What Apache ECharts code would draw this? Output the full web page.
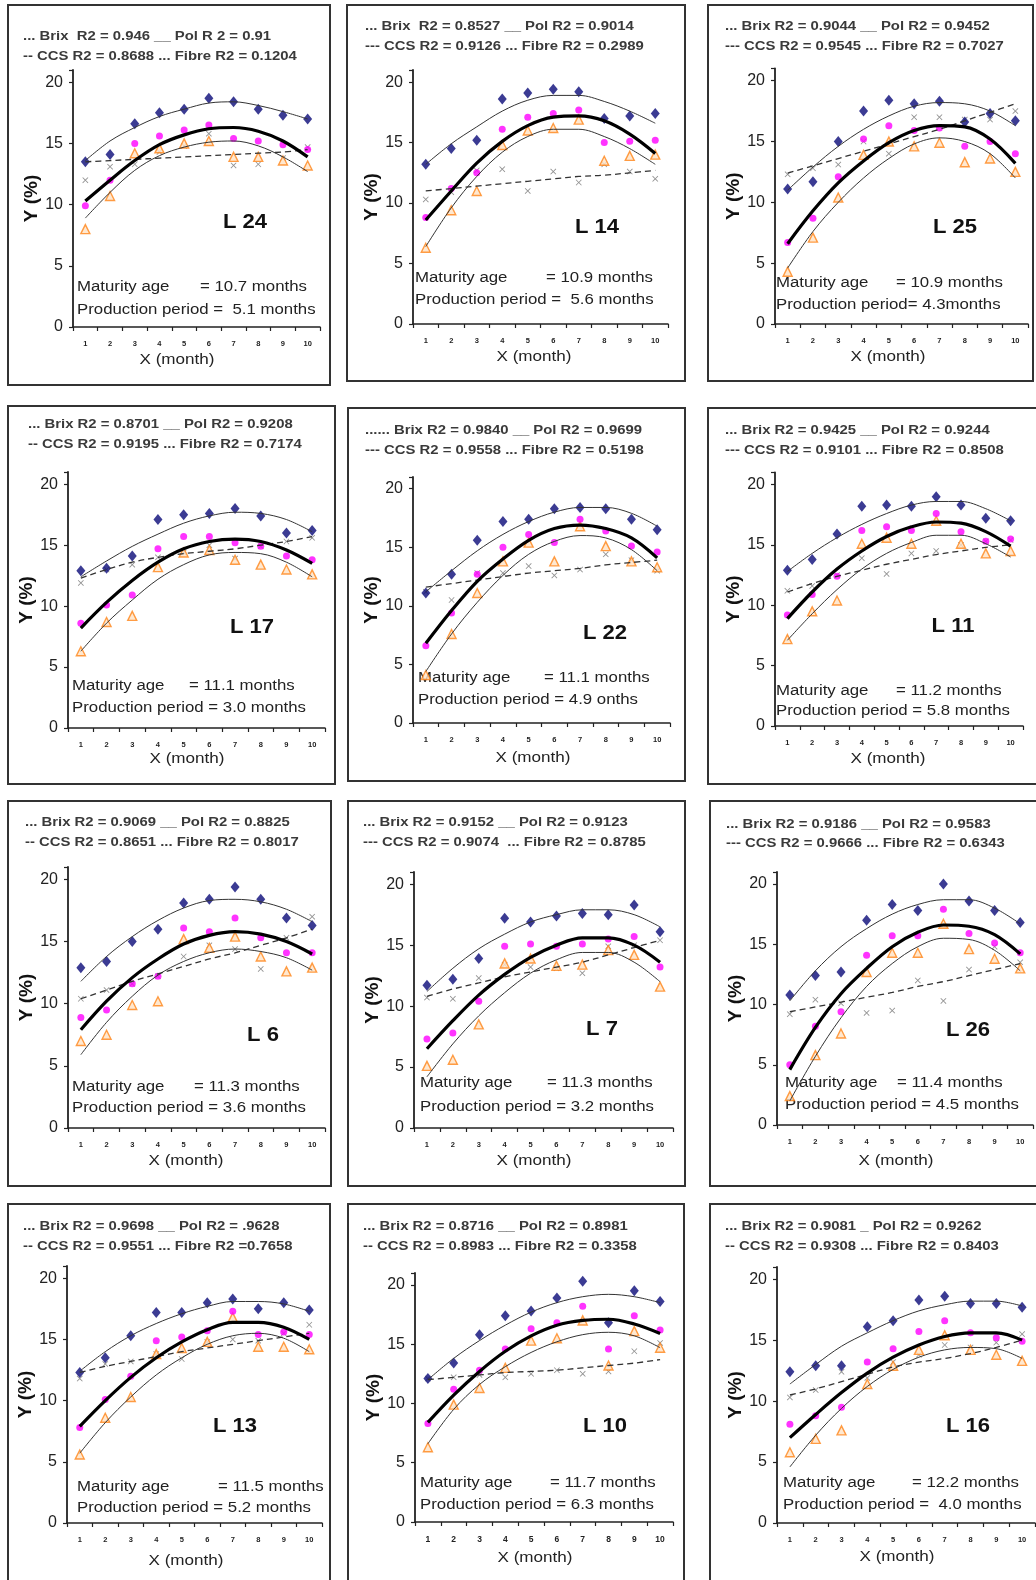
<!DOCTYPE html>
<html><head><meta charset="utf-8">
<script src="https://cdn.jsdelivr.net/npm/echarts@6/dist/echarts.min.js"></script>
<style>html,body{margin:0;padding:0;background:#fff}#c{width:1036px;height:1580px}</style>
</head><body><div id="c"></div>
<script>
const months = ['1','2','3','4','5','6','7','8','9','10'];
const yTicks = [0,5,10,15,20];
const panelNames = ['L 24','L 14','L 25','L 17','L 22','L 11','L 6','L 7','L 26','L 13','L 10','L 16'];
const r2Top = [
 '... Brix  R2 = 0.946 __ Pol R 2 = 0.91',
 '... Brix  R2 = 0.8527 __ Pol R2 = 0.9014',
 '... Brix R2 = 0.9044 __ Pol R2 = 0.9452',
 '... Brix R2 = 0.8701 __ Pol R2 = 0.9208',
 '...... Brix R2 = 0.9840 __ Pol R2 = 0.9699',
 '... Brix R2 = 0.9425 __ Pol R2 = 0.9244',
 '... Brix R2 = 0.9069 __ Pol R2 = 0.8825',
 '... Brix R2 = 0.9152 __ Pol R2 = 0.9123',
 '... Brix R2 = 0.9186 __ Pol R2 = 0.9583',
 '... Brix R2 = 0.9698 __ Pol R2 = .9628',
 '... Brix R2 = 0.8716 __ Pol R2 = 0.8981',
 '... Brix R2 = 0.9081 _ Pol R2 = 0.9262'
];
const r2Bottom = [
 '-- CCS R2 = 0.8688 ... Fibre R2 = 0.1204',
 '--- CCS R2 = 0.9126 ... Fibre R2 = 0.2989',
 '--- CCS R2 = 0.9545 ... Fibre R2 = 0.7027',
 '-- CCS R2 = 0.9195 ... Fibre R2 = 0.7174',
 '--- CCS R2 = 0.9558 ... Fibre R2 = 0.5198',
 '--- CCS R2 = 0.9101 ... Fibre R2 = 0.8508',
 '-- CCS R2 = 0.8651 ... Fibre R2 = 0.8017',
 '--- CCS R2 = 0.9074  ... Fibre R2 = 0.8785',
 '--- CCS R2 = 0.9666 ... Fibre R2 = 0.6343',
 '-- CCS R2 = 0.9551 ... Fibre R2 =0.7658',
 '-- CCS R2 = 0.8983 ... Fibre R2 = 0.3358',
 '-- CCS R2 = 0.9308 ... Fibre R2 = 0.8403'
];
const maturityText = ['= 10.7 months','= 10.9 months','= 10.9 months','= 11.1 months','= 11.1 months','= 11.2 months',
 '= 11.3 months','= 11.3 months','= 11.4 months','= 11.5 months','= 11.7 months','= 12.2 months'];
const productionText = ['Production period =  5.1 months','Production period =  5.6 months','Production period= 4.3months',
 'Production period = 3.0 months','Production period = 4.9 onths','Production period = 5.8 months',
 'Production period = 3.6 months','Production period = 3.2 months','Production period = 4.5 months',
 'Production period = 5.2 months','Production period = 6.3 months','Production period =  4.0 months'];

const brixObs = [
 [13.5,14.1,16.6,17.5,17.8,18.7,18.4,17.8,17.3,17.0],
 [13.2,14.5,15.2,18.6,19.1,19.4,19.2,17.0,17.2,17.4],
 [11.1,11.7,15.0,17.5,18.4,18.1,18.3,16.6,17.3,16.7],
 [12.9,13.1,14.1,17.1,17.5,17.6,18.0,17.4,16.0,16.2],
 [11.1,12.7,15.6,17.2,17.4,18.3,18.4,18.3,17.4,16.5],
 [12.9,13.8,15.9,18.2,18.3,18.2,19.0,18.3,17.2,17.0],
 [12.9,13.4,15.0,16.0,18.1,18.4,19.4,18.4,16.9,16.3],
 [11.7,12.2,13.9,17.2,16.9,17.4,17.6,17.5,18.3,16.1],
 [10.8,12.4,12.7,17.0,18.3,17.8,20.0,18.6,17.8,16.8],
 [12.3,13.5,15.3,17.2,17.2,18.0,18.3,17.5,18.0,17.4],
 [12.1,13.4,15.8,17.4,17.8,18.9,20.3,16.8,19.5,18.6],
 [12.4,12.9,12.9,16.1,16.6,18.3,18.6,18.0,18.0,17.7]
];
const polObs = [
 [9.9,12.0,15.0,15.6,16.1,16.5,15.4,15.2,14.9,14.5],
 [8.8,11.2,12.5,16.1,17.1,17.4,17.7,15.0,15.1,15.2],
 [6.7,8.7,12.1,15.2,16.3,15.9,16.1,14.6,15.0,14.0],
 [8.6,10.1,10.9,14.7,15.7,15.7,15.2,14.9,14.1,13.8],
 [6.6,9.4,12.7,15.0,16.1,15.4,17.4,16.4,15.1,14.6],
 [9.2,10.9,12.4,16.2,16.5,16.2,17.6,16.1,15.3,15.5],
 [8.9,9.5,11.6,12.2,16.1,15.8,16.9,15.3,14.1,14.1],
 [7.3,7.8,10.4,14.9,15.1,14.9,15.1,15.5,15.7,13.2],
 [5.0,8.2,9.4,14.1,15.7,15.7,17.9,15.9,15.1,14.3],
 [7.8,10.1,12.0,14.9,15.2,15.7,17.3,15.4,15.6,15.4],
 [8.3,11.2,12.8,14.6,16.3,16.8,18.2,14.6,17.4,16.2],
 [8.1,8.8,9.5,13.2,14.3,15.7,16.6,15.6,15.2,14.9]
];
const ccsObs = [
 [8.0,10.7,14.2,14.6,15.0,15.2,13.9,13.9,13.6,13.2],
 [6.3,9.4,11.0,14.8,16.0,16.2,16.9,13.5,13.9,14.0],
 [4.3,7.1,10.4,13.9,15.0,14.6,14.9,13.3,13.6,12.5],
 [6.3,8.7,9.2,13.2,14.4,14.6,13.8,13.4,13.0,12.6],
 [4.1,7.6,11.1,13.8,15.4,13.8,16.8,15.1,13.8,13.3],
 [7.2,9.5,10.4,15.1,15.6,15.1,17.0,15.1,14.3,14.5],
 [7.0,7.5,9.9,10.2,15.2,14.5,15.4,13.8,12.6,12.9],
 [5.1,5.6,8.5,13.5,13.9,13.3,13.4,14.6,14.2,11.6],
 [2.4,5.8,7.6,12.7,14.3,14.3,16.7,14.6,13.8,13.0],
 [5.6,8.6,10.3,13.8,14.3,14.8,16.8,14.4,14.4,14.2],
 [6.3,9.9,11.3,13.0,15.3,15.5,17.0,13.2,16.1,14.7],
 [5.8,6.9,7.6,11.4,12.9,14.2,15.4,14.2,13.8,13.3]
];
const fibreObs = [
 [12.0,13.1,13.3,14.3,14.8,15.8,13.2,13.3,13.8,14.7],
 [10.3,10.9,12.7,12.8,11.0,12.6,11.7,13.2,12.6,12.0],
 [12.3,12.8,13.1,15.0,14.0,17.0,17.0,16.8,16.8,17.5],
 [11.9,13.0,13.4,14.0,14.4,15.0,13.9,14.9,15.3,15.6],
 [11.2,10.5,12.8,12.8,13.4,12.6,13.1,14.4,13.9,13.0],
 [11.2,11.6,12.5,13.9,12.6,14.3,14.5,15.0,15.3,15.4],
 [10.4,11.1,11.6,12.2,13.8,14.7,14.4,12.8,15.3,17.0],
 [10.7,10.6,12.3,13.4,13.2,13.1,12.7,14.9,15.0,15.4],
 [9.2,10.4,10.1,9.3,9.5,12.0,10.3,12.9,14.8,13.5],
 [11.8,13.0,13.2,13.8,13.4,14.8,15.0,14.9,15.5,16.2],
 [12.1,12.2,12.4,12.2,12.5,12.8,12.5,12.7,14.4,15.1],
 [10.3,10.9,12.4,11.9,13.2,13.8,14.6,14.4,14.8,15.5]
];
const brixFit = [
 [13.6,15.2,16.3,17.2,17.8,18.3,18.4,18.1,17.6,17.0],
 [13.2,14.9,16.3,17.6,18.5,18.9,18.9,18.4,17.6,16.6],
 [11.0,12.9,14.6,16.0,17.1,17.9,18.2,18.1,17.5,16.3],
 [12.4,13.7,14.9,15.9,16.8,17.4,17.7,17.6,17.1,16.1],
 [11.2,13.0,14.7,16.1,17.2,18.0,18.4,18.4,17.9,16.8],
 [12.8,14.3,15.6,16.7,17.6,18.3,18.6,18.6,18.0,17.0],
 [11.8,13.8,15.4,16.7,17.7,18.3,18.4,18.2,17.6,16.6],
 [11.2,13.1,14.7,15.9,16.9,17.5,17.9,17.9,17.5,16.5],
 [10.3,12.8,14.8,16.3,17.5,18.3,18.7,18.7,18.0,16.7],
 [12.4,14.0,15.3,16.3,17.1,17.7,18.1,18.1,17.9,17.3],
 [12.0,13.8,15.3,16.6,17.7,18.5,19.0,19.2,19.0,18.5],
 [11.4,13.0,14.5,15.6,16.6,17.4,17.9,18.2,18.2,17.8]
];
const polFit = [
 [10.3,12.0,13.6,14.9,15.7,16.2,16.3,16.0,15.2,13.9],
 [8.6,11.0,13.3,15.1,16.4,17.1,17.2,16.8,15.7,14.1],
 [6.6,9.3,11.6,13.4,14.9,15.9,16.3,16.2,15.2,13.2],
 [8.2,10.3,12.1,13.6,14.7,15.3,15.5,15.3,14.6,13.5],
 [6.8,9.6,12.1,14.0,15.6,16.6,16.9,16.6,15.8,14.1],
 [8.9,11.1,13.0,14.5,15.7,16.5,16.9,16.8,16.1,14.9],
 [7.9,10.2,12.1,13.6,14.8,15.5,15.8,15.6,15.0,14.0],
 [6.5,8.8,10.9,12.6,14.0,15.0,15.6,15.6,15.0,13.6],
 [4.6,8.1,10.9,13.0,14.8,16.0,16.6,16.5,15.8,14.2],
 [7.9,10.0,11.9,13.5,14.8,15.8,16.4,16.4,16.0,15.0],
 [8.4,10.7,12.7,14.4,15.7,16.6,17.0,17.1,16.7,15.9],
 [7.0,8.9,10.7,12.3,13.6,14.6,15.3,15.6,15.6,15.0]
];
const ccsFit = [
 [8.9,11.0,12.8,14.0,14.7,15.1,15.2,14.8,13.9,12.7],
 [6.4,9.6,12.2,14.2,15.5,16.1,16.1,15.5,14.5,13.2],
 [4.6,7.6,10.0,12.0,13.6,14.8,15.3,15.0,14.0,12.0],
 [6.3,8.6,10.5,12.2,13.4,14.2,14.4,14.3,13.6,12.4],
 [4.4,7.6,10.3,12.6,14.4,15.5,16.0,15.8,14.8,13.0],
 [7.1,9.3,11.3,13.0,14.3,15.2,15.8,15.8,15.1,14.0],
 [5.9,8.5,10.6,12.3,13.4,14.1,14.4,14.2,13.7,12.7],
 [4.2,6.9,9.2,11.1,12.7,13.8,14.4,14.4,13.6,12.0],
 [2.0,5.7,8.9,11.5,13.4,14.8,15.5,15.4,14.5,12.8],
 [5.7,8.2,10.3,12.1,13.5,14.6,15.3,15.5,15.1,14.0],
 [6.6,9.5,11.6,13.1,14.3,15.2,15.8,16.0,15.7,14.7],
 [4.6,7.2,9.4,11.2,12.6,13.6,14.2,14.4,14.3,13.5]
];
const fibreFit = [
 [13.5,13.6,13.7,13.8,13.9,14.0,14.1,14.2,14.3,14.5],
 [11.0,11.2,11.4,11.6,11.8,12.0,12.2,12.3,12.5,12.7],
 [12.4,13.0,13.6,14.2,14.8,15.4,16.0,16.7,17.4,18.1],
 [12.3,13.0,13.6,14.0,14.3,14.5,14.7,15.0,15.3,15.7],
 [11.6,11.9,12.2,12.5,12.8,13.0,13.2,13.5,13.7,13.9],
 [11.1,11.8,12.4,12.9,13.4,13.8,14.2,14.5,14.8,15.0],
 [10.4,11.1,11.8,12.4,13.0,13.6,14.1,14.7,15.3,16.0],
 [10.8,11.4,11.9,12.4,12.8,13.2,13.6,14.2,14.8,15.4],
 [9.4,9.8,10.2,10.6,11.0,11.5,11.9,12.4,12.9,13.4],
 [12.3,12.8,13.2,13.6,14.0,14.3,14.6,14.9,15.2,15.5],
 [12.0,12.2,12.4,12.6,12.7,12.8,13.0,13.2,13.4,13.7],
 [10.5,11.0,11.6,12.2,12.8,13.2,13.5,13.9,14.4,15.0]
];

// layout (pixel positions only)
const layout = [
 {box:[8,5,330,385],     grid:[73,70,320,327],      leg:[23,37,57],      title:[245,222],  txt:[77,287,310,123],  xname:[177,360]},
 {box:[347,5,685,381],   grid:[413,70,668,324],     leg:[365,27,47],     title:[597,227],  txt:[415,278,300,131],  xname:[534,357]},
 {box:[708,5,1033,381],  grid:[775,68.5,1028,324],  leg:[725,27,47],     title:[955,227],  txt:[776,283,305,120],  xname:[888,357]},
 {box:[8,406,335,784],   grid:[68,472,325,728],     leg:[28,425,445],    title:[252,627],  txt:[72,686,708,117],   xname:[187,759]},
 {box:[348,408,685,781], grid:[413,477,670,723],    leg:[365,431,451],   title:[605,633],  txt:[418,678,700,126],  xname:[533,758]},
 {box:[708,408,1040,784],grid:[775,472.5,1023,726], leg:[725,431,451],   title:[953,626],  txt:[776,691,711,120],  xname:[888,759]},
 {box:[8,801,331,1186],  grid:[68,867,325,1128],    leg:[25,823,843],    title:[263,1035], txt:[72,1087,1108,122], xname:[186,1161]},
 {box:[348,801,685,1186],grid:[414,872,673,1128],   leg:[363,823,843],   title:[602,1029], txt:[420,1083,1107,127],xname:[534,1161]},
 {box:[710,801,1040,1186],grid:[777,872,1033,1125], leg:[726,825,844],   title:[968,1030], txt:[785,1083,1105,112],xname:[896,1161]},
 {box:[8,1204,330,1582], grid:[67,1266,322,1523],   leg:[23,1227,1247],  title:[235,1426], txt:[77,1487,1508,141], xname:[186,1561]},
 {box:[348,1204,684,1582],grid:[415,1273,673,1522], leg:[363,1227,1247], title:[605,1426], txt:[420,1483,1505,130],xname:[535,1558]},
 {box:[710,1204,1040,1582],grid:[777,1267,1035,1523],leg:[725,1227,1247],title:[968,1426], txt:[783,1483,1505,129],xname:[897,1557]}
];

const FONT = '"Liberation Sans", Arial, Helvetica, sans-serif';
const XSYM = 'path://M0,1L1,0L5,4L9,0L10,1L6,5L10,9L9,10L5,6L1,10L0,9L4,5Z';

const grids = [], xAxes = [], yAxes = [], series = [], graphics = [];
layout.forEach((L, p) => {
  const [gl, gt, gr, gb] = L.grid;
  grids.push({left: gl, top: gt, width: gr - gl, height: gb - gt, containLabel: false});
  xAxes.push({
    type: 'category', gridIndex: p, data: months, boundaryGap: true,
    axisLine: {lineStyle: {color: '#222', width: 1.5}},
    axisTick: {show: true, length: 4, lineStyle: {color: '#222', width: 1.2}},
    axisLabel: {interval: 0, fontSize: p === 10 ? 8.5 : 7.5, fontWeight: 'bold', color: '#222', margin: 13, fontFamily: FONT},
    splitLine: {show: false}
  });
  yAxes.push({
    type: 'value', gridIndex: p, min: 0, max: 21, interval: 5,
    axisLine: {show: true, lineStyle: {color: '#222', width: 1.8}},
    axisTick: {show: true, length: 4, lineStyle: {color: '#222', width: 1.2}},
    axisLabel: {fontSize: 16, color: '#222', margin: 10, fontFamily: FONT,
      formatter: v => (yTicks.indexOf(v) >= 0 ? String(v) : '')},
    name: 'Y (%)', nameLocation: 'middle', nameGap: 32,
    nameTextStyle: {fontSize: 19, fontWeight: 'bold', color: '#111', fontFamily: FONT},
    splitLine: {show: false}
  });
  const pts = arr => arr.map((v, i) => [months[i], v]);
  series.push({type: 'scatter', xAxisIndex: p, yAxisIndex: p, data: pts(fibreObs[p]), symbol: XSYM, symbolSize: 6,
    itemStyle: {color: '#777'}, z: 2});
  series.push({type: 'scatter', xAxisIndex: p, yAxisIndex: p, data: pts(ccsObs[p]), symbol: 'triangle', symbolSize: 9,
    itemStyle: {color: '#ffe2c4', borderColor: '#ff8418', borderWidth: 1.4}, z: 2});
  series.push({type: 'scatter', xAxisIndex: p, yAxisIndex: p, data: pts(polObs[p]), symbol: 'circle', symbolSize: 7,
    itemStyle: {color: '#ff00ff'}, z: 2});
  series.push({type: 'scatter', xAxisIndex: p, yAxisIndex: p, data: pts(brixObs[p]), symbol: 'diamond', symbolSize: [9, 11],
    itemStyle: {color: '#0a0a78'}, z: 2});
  const line = (data, ls) => ({type: 'line', xAxisIndex: p, yAxisIndex: p, data: data, smooth: 0.35, symbol: 'none',
    lineStyle: ls, z: 3, silent: true});
  series.push(line(fibreFit[p], {color: '#333', width: 1.3, type: [6, 4]}));
  series.push(line(ccsFit[p], {color: '#333', width: 1}));
  series.push(line(brixFit[p], {color: '#333', width: 1}));
  series.push(line(polFit[p], {color: '#000', width: 3.2}));

  const [bx1, by1, bx2, by2] = L.box;
  graphics.push({type: 'rect', silent: true, shape: {x: bx1, y: by1, width: bx2 - bx1, height: by2 - by1},
    style: {fill: 'none', stroke: '#333', lineWidth: 2}});
  const txt = (x, y, text, font, opts) => Object.assign({type: 'text', x: x, y: y, silent: true,
    style: {text: text, font: font, fill: '#222', textAlign: 'left', textVerticalAlign: 'middle'}}, opts || {});
  const l1 = txt(L.leg[0], L.leg[1], r2Top[p], 'bold 12px ' + FONT, {scaleX: 1.24}); l1.style.fill = '#3a3a3a';
  const l2 = txt(L.leg[0], L.leg[2], r2Bottom[p], 'bold 12px ' + FONT, {scaleX: 1.24}); l2.style.fill = '#3a3a3a';
  graphics.push(l1, l2);
  const t = txt(L.title[0], L.title[1], panelNames[p], 'bold 21px ' + FONT, {scaleX: 1.05});
  t.style.textAlign = 'center'; t.style.fill = '#111';
  graphics.push(t);
  graphics.push(txt(L.txt[0], L.txt[1], 'Maturity age', '14px ' + FONT, {scaleX: 1.2}));
  graphics.push(txt(L.txt[0] + L.txt[3], L.txt[1], maturityText[p], '14px ' + FONT, {scaleX: 1.2}));
  graphics.push(txt(L.txt[0], L.txt[2], productionText[p], '14px ' + FONT, {scaleX: 1.2}));
  const xn = txt(L.xname[0], L.xname[1], 'X (month)', '14px ' + FONT, {scaleX: 1.22});
  xn.style.textAlign = 'center';
  graphics.push(xn);
});

const chart = echarts.init(document.getElementById('c'), null, {renderer: 'canvas'});
chart.setOption({
  backgroundColor: '#fff',
  animation: false,
  grid: grids, xAxis: xAxes, yAxis: yAxes, series: series,
  graphic: {elements: graphics}
});
</script>
</body></html>
